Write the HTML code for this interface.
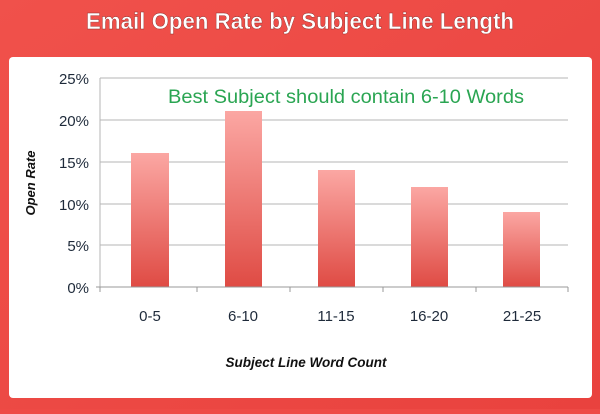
<!DOCTYPE html><html><head><style>
body{margin:0;width:600px;height:409px;overflow:hidden;background:#ee4a45;font-family:"Liberation Sans",sans-serif}
</style></head><body>
<svg width="600" height="409" xmlns="http://www.w3.org/2000/svg">
<defs>
<linearGradient id="b" x1="0" y1="0" x2="0" y2="1"><stop offset="0" stop-color="#fba7a3"/><stop offset="1" stop-color="#df4b44"/></linearGradient>
<linearGradient id="bg" x1="0" y1="0" x2="1" y2="1"><stop offset="0" stop-color="#f0514b"/><stop offset="1" stop-color="#e9423e"/></linearGradient>
</defs>
<rect width="600" height="409" fill="url(#bg)"/>
<text x="86" y="29" textLength="428" lengthAdjust="spacingAndGlyphs" font-size="23" font-weight="bold" fill="#fff" stroke="#8a2a28" stroke-width="0.4" font-family="Liberation Sans">Email Open Rate by Subject Line Length</text>
<rect x="9" y="57" width="583" height="341" rx="4" fill="#fff"/>
<g stroke="#b5b5b5" stroke-width="1">
<line x1="100" y1="78" x2="568" y2="78"/><line x1="100" y1="120" x2="568" y2="120"/><line x1="100" y1="162" x2="568" y2="162"/><line x1="100" y1="204" x2="568" y2="204"/><line x1="100" y1="245" x2="568" y2="245"/>
<line x1="100" y1="78" x2="100" y2="287"/>
</g>
<g fill="url(#b)">
<rect x="131" y="153" width="38" height="134"/>
<rect x="225" y="111" width="37" height="176"/>
<rect x="318" y="170" width="37" height="117"/>
<rect x="411" y="187" width="37" height="100"/>
<rect x="503" y="212" width="37" height="75"/>
</g>
<g stroke="#999" stroke-width="1"><line x1="96" y1="287" x2="568" y2="287"/>
<line x1="100" y1="287" x2="100" y2="292"/><line x1="197" y1="287" x2="197" y2="292"/><line x1="290" y1="287" x2="290" y2="292"/><line x1="383" y1="287" x2="383" y2="292"/><line x1="476" y1="287" x2="476" y2="292"/><line x1="568" y1="287" x2="568" y2="292"/></g>
<g font-size="15" fill="#1e2a3a" text-anchor="end">
<text x="89" y="84">25%</text><text x="89" y="126">20%</text><text x="89" y="168">15%</text><text x="89" y="210">10%</text><text x="89" y="251">5%</text><text x="89" y="293">0%</text></g>
<g font-size="15" fill="#1e2a3a" text-anchor="middle">
<text x="150" y="321">0-5</text><text x="243" y="321">6-10</text><text x="336" y="321">11-15</text><text x="429" y="321">16-20</text><text x="522" y="321">21-25</text></g>
<text x="168" y="103" textLength="356" lengthAdjust="spacingAndGlyphs" font-size="19" fill="#2aa552">Best Subject should contain 6-10 Words</text>
<text x="306" y="367" text-anchor="middle" font-size="13.5" font-weight="bold" font-style="italic" fill="#111">Subject Line Word Count</text>
<text transform="translate(35,183) rotate(-90)" text-anchor="middle" font-size="13" font-weight="bold" font-style="italic" fill="#111">Open Rate</text>
</svg>
</body></html>
